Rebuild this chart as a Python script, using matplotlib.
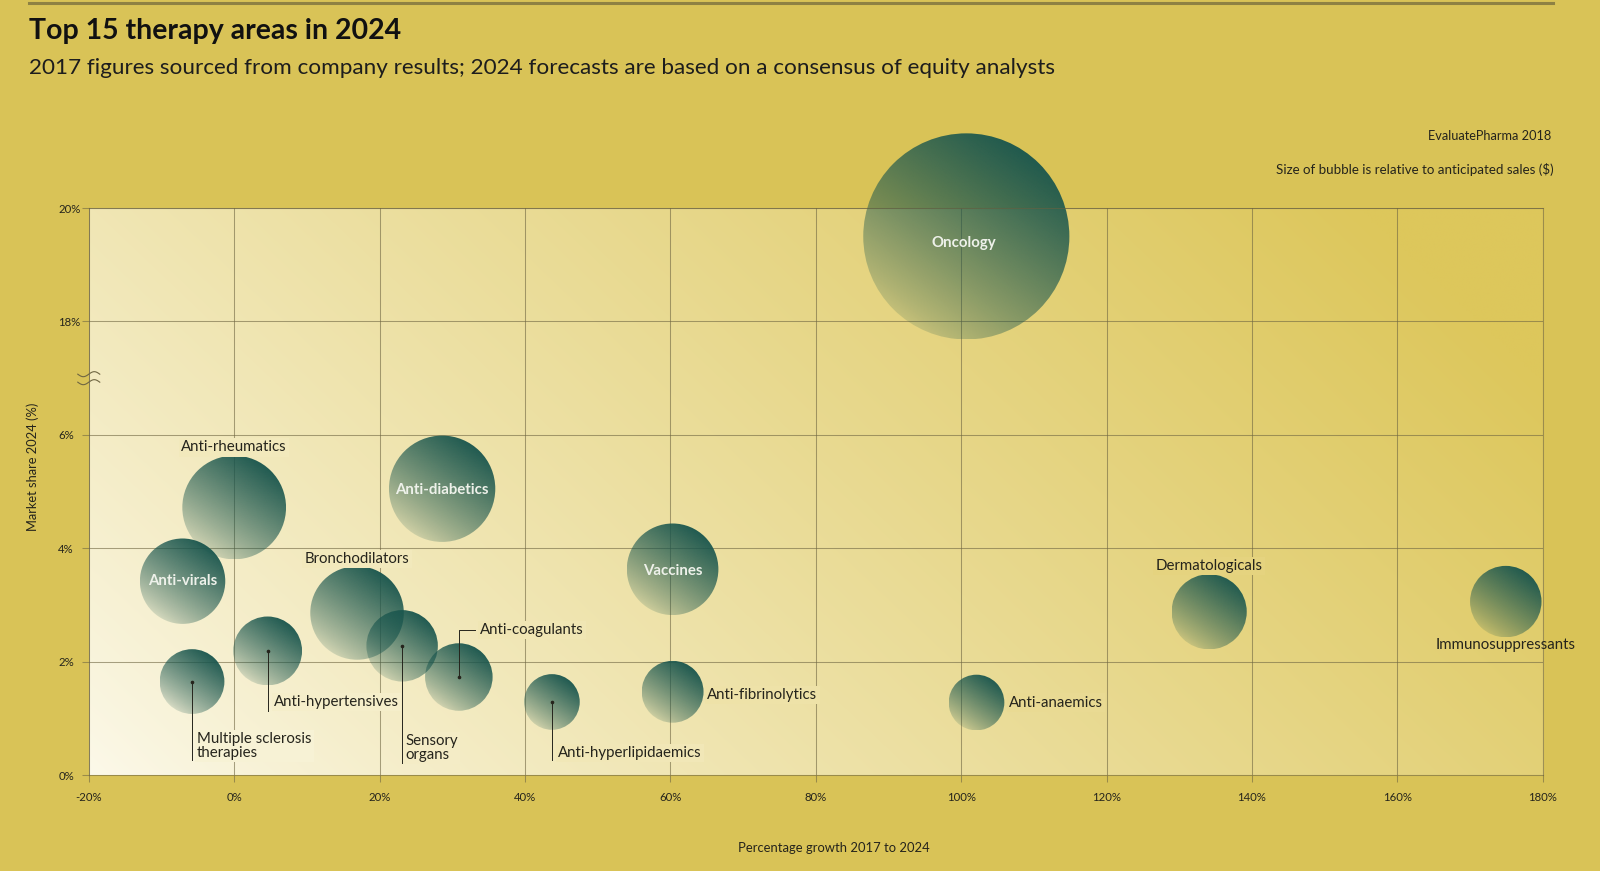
import numpy as np
import matplotlib
matplotlib.use("Agg")
import matplotlib.pyplot as plt
import matplotlib.transforms as mtransforms
from matplotlib.patches import Circle

plt.rcParams['font.family'] = ['Lato', 'DejaVu Sans']

# ---- data ----
areas = ["Oncology", "Anti-rheumatics", "Anti-diabetics", "Anti-virals", "Vaccines",
         "Bronchodilators", "Sensory organs", "Anti-hypertensives",
         "Multiple sclerosis therapies", "Anti-coagulants", "Anti-hyperlipidaemics",
         "Anti-fibrinolytics", "Anti-anaemics", "Dermatologicals", "Immunosuppressants"]
growth = [100.7, 0.0, 28.6, -7.1, 60.3, 16.9, 23.1, 4.6, -5.8, 30.9, 43.7, 60.3, 102.1, 134.1, 174.9]
share = [19.5, 4.72, 5.05, 3.42, 3.63, 2.86, 2.28, 2.19, 1.65, 1.73, 1.29, 1.47, 1.28, 2.88, 3.06]
sales = [233, 59, 62, 40, 46, 48, 28, 26, 23, 25, 17, 21, 17, 31, 28]   # $bn, bubble area

x_ticks = [-20, 0, 20, 40, 60, 80, 100, 120, 140, 160, 180]
y_ticks = [0, 2, 4, 6, 18, 20]

# label placement: offset in px from bubble centre, alignment, leader path
S = 1600 / 1568
layout = {
    "Oncology": dict(text="Oncology", dx=-2, dy=-6, ha="center", inside=True),
    "Anti-diabetics": dict(text="Anti-diabetics", dx=0, dy=-1, ha="center", inside=True),
    "Anti-virals": dict(text="Anti-virals", dx=0, dy=0, ha="center", inside=True),
    "Vaccines": dict(text="Vaccines", dx=0, dy=-2, ha="center", inside=True),
    "Anti-rheumatics": dict(text="Anti-rheumatics", dx=0, dy=59, ha="center"),
    "Bronchodilators": dict(text="Bronchodilators", dx=0, dy=53, ha="center"),
    "Dermatologicals": dict(text="Dermatologicals", dx=0, dy=45, ha="center"),
    "Immunosuppressants": dict(text="Immunosuppressants", dx=0, dy=-43, ha="center",
                               nobox=True),
    "Anti-fibrinolytics": dict(text="Anti-fibrinolytics", dx=34, dy=-3, ha="left"),
    "Anti-anaemics": dict(text="Anti-anaemics", dx=32, dy=0, ha="left"),
    "Multiple sclerosis therapies": dict(text="Multiple sclerosis\ntherapies", dx=5, dy=-63,
                                         ha="left", leader=[(0, 0), (0, -77)]),
    "Anti-hypertensives": dict(text="Anti-hypertensives", dx=6, dy=-50, ha="left",
                               leader=[(0, 0), (0, -59)]),
    "Sensory organs": dict(text="Sensory\norgans", dx=3, dy=-100, ha="left",
                           leader=[(0, 0), (0, -115)]),
    "Anti-hyperlipidaemics": dict(text="Anti-hyperlipidaemics", dx=6, dy=-50, ha="left",
                                  leader=[(0, 0), (0, -57)]),
    "Anti-coagulants": dict(text="Anti-coagulants", dx=21, dy=46, ha="left",
                            leader=[(0, 0), (0, 46), (16, 46)]),
}

BG = "#d9c357"
GRID = "#6f6642"
INK = "#25241c"
CREAM = np.array([252, 249, 234]) / 255
YELLOW = np.array([221, 199, 92]) / 255
TEAL = np.array([26, 86, 78]) / 255

# broken y axis: 0-6.5 linear, 17.5-20 linear, squeezed gap between
LO, HI = 6.5, 17.5


def fwd(y):
    y = np.asarray(y, dtype=float)
    return np.where(y <= LO, y, np.where(y >= HI, y - 10, LO + (y - LO) / 11))


def inv(v):
    v = np.asarray(v, dtype=float)
    return np.where(v <= LO, v, np.where(v >= HI - 10, v + 10, LO + (v - LO) * 11))


def bg_color(fx, fy):
    t = np.clip(0.78 * np.asarray(fx) + 0.32 * np.asarray(fy), 0, 1) ** 0.85
    return CREAM + (YELLOW - CREAM) * np.asarray(t)[..., None]


fig = plt.figure(figsize=(16, 8.71), dpi=100, facecolor=BG)
W, H = 1568, 854
ax = fig.add_axes([87 / W, 1 - 760 / H, (1512 - 87) / W, (760 - 204) / H])
ax.set_facecolor(BG)
ax.set_yscale('function', functions=(fwd, inv))

# background gradient of the plot area
gx, gy = np.meshgrid(np.linspace(0, 1, 400), np.linspace(0, 1, 200))
bg = bg_color(gx, gy)
ax.imshow(bg, extent=(0, 1, 0, 1), origin='lower', transform=ax.transAxes,
          aspect='auto', zorder=0.1, interpolation='bilinear')

# bubble gradient (teal, fading out toward the lower left)
n = 256
u = np.linspace(-1, 1, n)
U, V = np.meshgrid(u, u)
ang = np.deg2rad(55)
t = np.clip((U * np.cos(ang) + V * np.sin(ang) + 1) / 2, 0, 1)
grad = np.zeros((n, n, 4))
grad[..., :3] = TEAL
grad[..., 3] = 0.16 + 0.81 * t ** 0.85

R_MAX = 101 * S
smax = max(sales)
for x, y, s in zip(growth, share, sales):
    r = R_MAX * np.sqrt(s / smax)
    tr = mtransforms.Affine2D() + mtransforms.ScaledTranslation(x, y, ax.transData)
    circ = Circle((0, 0), r, transform=tr, facecolor='none', edgecolor='none')
    im = ax.imshow(grad, extent=(-r, r, -r, r), origin='lower', transform=tr,
                   aspect='auto', interpolation='bilinear', zorder=2)
    im.set_clip_path(circ)
    im.set_clip_box(fig.bbox)

ax.set_xlim(-20, 180)
ax.set_ylim(0, 20)
ax.set_xticks(x_ticks)
ax.set_xticklabels([f"{v}%" for v in x_ticks])
ax.set_yticks(y_ticks)
ax.set_yticklabels([f"{v}%" for v in y_ticks])
ax.set_axisbelow(True)
ax.grid(True, color=GRID, lw=0.75, alpha=0.6)
for sp in ax.spines.values():
    sp.set_color(GRID)
    sp.set_linewidth(0.75)
    sp.set_alpha(0.6)
ax.tick_params(axis='both', length=5, width=0.75, color=(0.435, 0.4, 0.26, 0.6),
               labelsize=8.2, labelcolor=INK)
ax.tick_params(axis='x', pad=7)
ax.tick_params(axis='y', pad=17)
for lbl in ax.get_yticklabels():
    lbl.set_ha('left')

# labels and leaders
boxed = []
for x, y, name in zip(growth, share, areas):
    lay = layout[name]
    dx, dy = lay["dx"] * S, lay["dy"] * S
    if "leader" in lay:
        tr = mtransforms.Affine2D() + mtransforms.ScaledTranslation(x, y, ax.transData)
        pts = np.array(lay["leader"], dtype=float) * S
        ax.plot(pts[:, 0], pts[:, 1], transform=tr, color=INK, lw=0.7, zorder=3,
                clip_on=False)
        ax.plot([0], [0], transform=tr, marker='o', ms=1.6, color=INK, zorder=3)
    if lay.get("inside"):
        ax.annotate(lay["text"], (x, y), xytext=(dx, dy), textcoords='offset pixels',
                    ha='center', va='center', fontsize=10.8, color='#eef1ea',
                    fontweight='bold', zorder=5, annotation_clip=False)
    else:
        box = None if lay.get("nobox") else dict(boxstyle='square,pad=0.15', fc=BG, ec='none')
        txt = ax.annotate(lay["text"], (x, y), xytext=(dx, dy), textcoords='offset pixels',
                          ha=lay["ha"], va='center', fontsize=10.8, color=INK, zorder=5,
                          linespacing=0.95, annotation_clip=False, bbox=box)
        if box is not None:
            boxed.append(txt)

# break mark on the y axis
brk = mtransforms.Affine2D() + mtransforms.ScaledTranslation(-20, 12.0, ax.transData)
wx = np.linspace(-11, 11, 60)
for off in (4, -4):
    ax.plot(wx, off + 2.5 * np.sin(wx / 22 * 2 * np.pi), transform=brk, color=GRID,
            lw=0.8, clip_on=False, zorder=4)

# figure texts
fig.add_artist(plt.Line2D([28 / W, 1522 / W], [1 - 3 / H, 1 - 3 / H], color='#8e8143',
                          lw=2.2, transform=fig.transFigure))
fig.text(28 / W, 1 - 30 / H, "Top 15 therapy areas in 2024", fontsize=20.5,
         fontweight='bold', color='#111111', va='center', ha='left')
fig.text(28 / W, 1 - 67 / H,
         "2017 figures sourced from company results; 2024 forecasts are based on a consensus of equity analysts",
         fontsize=16.2, color='#1d1d1d', va='center', ha='left')
fig.text(1520 / W, 1 - 133 / H, "EvaluatePharma 2018", fontsize=9.2, color=INK,
         ha='right', va='center')
fig.text(1523 / W, 1 - 166 / H, "Size of bubble is relative to anticipated sales ($)",
         fontsize=9.6, color=INK, ha='right', va='center')
fig.text(32 / W, 1 - 458 / H, "Market share 2024 (%)", fontsize=9.3, color=INK,
         rotation=90, ha='center', va='center')
fig.text(817 / W, 1 - 831 / H, "Percentage growth 2017 to 2024", fontsize=9.4,
         color=INK, ha='center', va='center')

# match each label's backing box to the plot gradient under the text centre
fig.canvas.draw()
renderer = fig.canvas.get_renderer()
to_axes = ax.transAxes.inverted()
for txt in boxed:
    ext = txt.get_window_extent(renderer)
    fx, fy = to_axes.transform(((ext.x0 + ext.x1) / 2, (ext.y0 + ext.y1) / 2))
    txt.get_bbox_patch().set_facecolor(bg_color(fx, fy))

fig.savefig("out.png", dpi=100, facecolor=BG)
